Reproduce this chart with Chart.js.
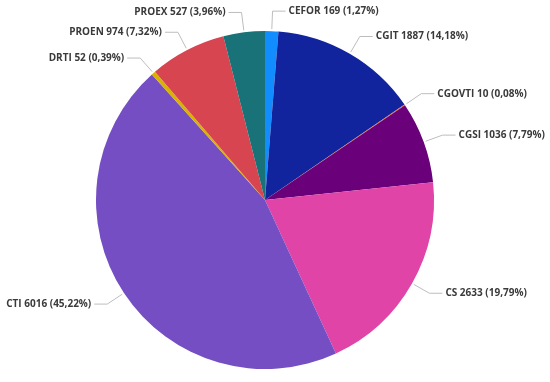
<!DOCTYPE html>
<html>
<head>
<meta charset="utf-8">
<script src="https://cdn.jsdelivr.net/npm/chart.js@4"></script>
<style>
  html, body { margin: 0; padding: 0; background: #fff; }
  canvas { display: block; }
</style>
</head>
<body>
<canvas id="chart" width="550" height="382"></canvas>
<script>
// categories clockwise from 12 o'clock
const labels = ["CEFOR", "CGIT", "CGOVTI", "CGSI", "CS", "CTI", "DRTI", "PROEN", "PROEX"];
const values = [169, 1887, 10, 1036, 2633, 6016, 52, 974, 527];
const colors = ["#118DFF", "#12239E", "#E66C37", "#6B007B", "#E044A7", "#744EC2", "#D9B300", "#D64550", "#197278"];

const total = values.reduce((a, b) => a + b, 0);

function pctText(v) {
  return (v / total * 100).toFixed(2).replace(".", ",") + "%";
}

// draws leader lines + "NAME value (pct)" labels outside each slice
const outsideLabels = {
  id: "outsideLabels",
  afterDatasetsDraw(chart) {
    const ctx = chart.ctx;
    const arcs = chart.getDatasetMeta(0).data;
    ctx.save();
    ctx.font = "bold 10px 'Open Sans', sans-serif";
    ctx.textBaseline = "middle";
    arcs.forEach((arc, i) => {
      const mid = (arc.startAngle + arc.endAngle) / 2;
      const r = arc.outerRadius;
      const cx = arc.x, cy = arc.y;
      const dx = Math.cos(mid), dy = Math.sin(mid);
      const x0 = cx + dx * (r + 2), y0 = cy + dy * (r + 2);
      const x1 = cx + dx * (r + 20), y1 = cy + dy * (r + 20);
      const right = dx >= 0;
      const x2 = x1 + (right ? 13 : -13);

      ctx.strokeStyle = "#bdbdbd";
      ctx.lineWidth = 1;
      ctx.beginPath();
      ctx.moveTo(x0, y0);
      ctx.lineTo(x1, y1);
      ctx.lineTo(x2, y1);
      ctx.stroke();

      ctx.fillStyle = "#3a3a3a";
      ctx.textAlign = right ? "left" : "right";
      const txt = labels[i] + " " + values[i] + " (" + pctText(values[i]) + ")";
      ctx.fillText(txt, x2 + (right ? 3 : -3), y1);
    });
    ctx.restore();
  }
};

new Chart(document.getElementById("chart"), {
  type: "pie",
  data: {
    labels: labels,
    datasets: [{
      data: values,
      backgroundColor: colors,
      borderWidth: 0,
      hoverOffset: 0,
      offset: 0,
    }],
  },
  options: {
    responsive: false,
    animation: false,
    layout: { padding: { top: 31, bottom: 13, left: 86, right: 106 } },
    plugins: {
      legend: { display: false },
      tooltip: { enabled: false },
    },
  },
  plugins: [outsideLabels],
});
</script>
</body>
</html>
